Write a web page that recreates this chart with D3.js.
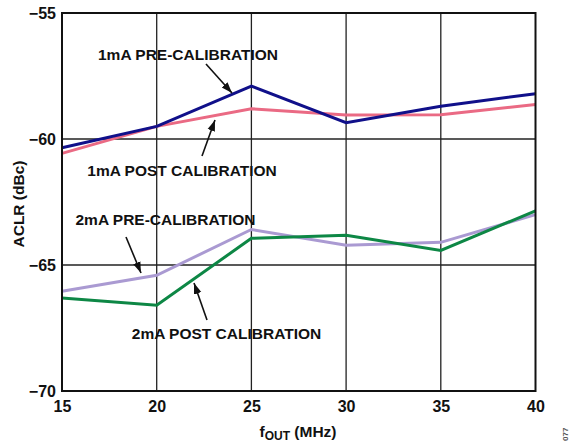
<!DOCTYPE html>
<html><head><meta charset="utf-8">
<script src="https://cdn.jsdelivr.net/npm/d3@7"></script>
<style>body{margin:0;background:#fff}svg{display:block}text{font-family:"Liberation Sans",Arial,sans-serif;font-weight:bold}</style>
</head><body>
<svg id="c" width="572" height="444"></svg>
<script>
const freqs = [15, 20, 25, 30, 35, 40];
const pre1mA = [-60.35, -59.5, -57.9, -59.35, -58.7, -58.2];
const post1mA = [-60.57, -59.5, -58.8, -59.05, -59.04, -58.63];
const pre2mA = [-66.04, -65.41, -63.59, -64.22, -64.1, -63.0];
const post2mA = [-66.31, -66.6, -63.94, -63.82, -64.42, -62.85];
const xTicks = [15, 20, 25, 30, 35, 40];
const yTicks = [-55, -60, -65, -70];
const seriesNames = ["1mA PRE-CALIBRATION", "1mA POST CALIBRATION", "2mA PRE-CALIBRATION", "2mA POST CALIBRATION"];
const seriesColors = ["#10108a", "#ea6a84", "#aa9ad2", "#0d8745"];

const FS = 15.5;
const svg = d3.select("#c");
const L = 62, R = 535.5, T = 13, B = 391;
const x = d3.scaleLinear().domain([15, 40]).range([L, R]);
const y = d3.scaleLinear().domain([-70, -55]).range([B, T]);

// grid
const g = svg.append("g");
g.selectAll(".vx").data(xTicks.slice(1, -1)).join("line")
  .attr("x1", d => x(d)).attr("x2", d => x(d)).attr("y1", T).attr("y2", B)
  .attr("stroke", "#222").attr("stroke-width", 1.3);
g.selectAll(".hy").data(yTicks.slice(1, -1)).join("line")
  .attr("x1", L).attr("x2", R).attr("y1", d => y(d)).attr("y2", d => y(d))
  .attr("stroke", "#222").attr("stroke-width", 1.3);

// series
const all = [pre1mA, post1mA, pre2mA, post2mA];
const line = d3.line().x((d, i) => x(freqs[i])).y(d => y(d));
const order = [1, 0, 2, 3];
order.forEach(k => {
  svg.append("path").attr("d", line(all[k])).attr("fill", "none")
    .attr("stroke", seriesColors[k]).attr("stroke-width", 3).attr("stroke-linejoin", "miter");
});

// frame
svg.append("rect").attr("x", L).attr("y", T).attr("width", R - L).attr("height", B - T)
  .attr("fill", "none").attr("stroke", "#111").attr("stroke-width", 2);

// axes labels
const yAxis = d3.axisLeft(y).tickValues(yTicks).tickSize(0).tickPadding(6)
  .tickFormat(d => "\u2212" + Math.abs(d));
const ya = svg.append("g").attr("transform", `translate(${L},0)`).call(yAxis);
ya.select(".domain").remove();
ya.selectAll("text").attr("font-size", FS + 0.5).attr("fill", "#111").attr("font-family", "Liberation Sans, Arial, sans-serif").attr("font-weight", "bold");

const xAxis = d3.axisBottom(x).tickValues(xTicks).tickSize(0).tickPadding(10);
const xa = svg.append("g").attr("transform", `translate(0,${B})`).call(xAxis);
xa.select(".domain").remove();
xa.selectAll("text").attr("font-size", FS + 0.5).attr("fill", "#111").attr("font-family", "Liberation Sans, Arial, sans-serif").attr("font-weight", "bold");

// axis titles
const xt = svg.append("text").attr("x", 298).attr("y", 437).attr("text-anchor", "middle").attr("font-size", FS).attr("fill", "#111");
xt.append("tspan").text("f");
xt.append("tspan").attr("font-size", 12).attr("dy", 3).text("OUT");
xt.append("tspan").attr("dy", -3).text(" (MHz)");
svg.append("text").attr("transform", "translate(24,204) rotate(-90)").attr("text-anchor", "middle")
  .attr("font-size", FS).attr("fill", "#111").text("ACLR (dBc)");
svg.append("text").attr("transform", "translate(568,441) rotate(-90)").attr("text-anchor", "start")
  .attr("font-size", 8).attr("font-weight", "normal").attr("fill", "#555").text("077");

// annotations
const defs = svg.append("defs");
defs.append("marker").attr("id", "ah").attr("viewBox", "0 0 10 10").attr("refX", 10).attr("refY", 5)
  .attr("markerWidth", 11).attr("markerHeight", 11).attr("markerUnits", "userSpaceOnUse").attr("orient", "auto")
  .append("path").attr("d", "M0,1.5 L10,5 L0,8.5 Z").attr("fill", "#111");
const labels = [
  {t: seriesNames[0], x: 188, y: 60, a: [206, 64, 232, 93]},
  {t: seriesNames[1], x: 182, y: 175.5, a: [202, 156, 215, 120]},
  {t: seriesNames[2], x: 165.5, y: 225, a: [126, 237, 141, 273]},
  {t: seriesNames[3], x: 226.5, y: 339, a: [207, 320, 194, 283]}
];
labels.forEach(l => {
  svg.append("text").attr("x", l.x).attr("y", l.y).attr("text-anchor", "middle")
    .attr("font-size", FS).attr("fill", "#111").text(l.t);
  svg.append("line").attr("x1", l.a[0]).attr("y1", l.a[1]).attr("x2", l.a[2]).attr("y2", l.a[3])
    .attr("stroke", "#111").attr("stroke-width", 1.6).attr("marker-end", "url(#ah)");
});
</script>
</body></html>
